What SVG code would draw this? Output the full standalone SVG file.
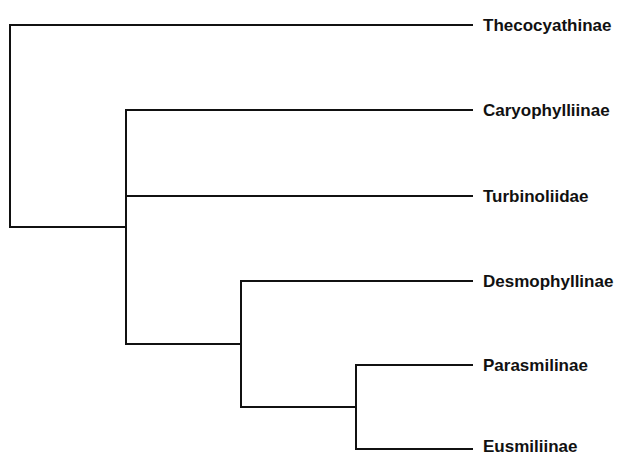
<svg xmlns="http://www.w3.org/2000/svg" width="618" height="455" viewBox="0 0 618 455">
<style>
.e{fill:none;stroke:#111;stroke-width:2;stroke-linecap:square;stroke-linejoin:miter}
.t{font-family:"Liberation Sans",Arial,sans-serif;font-weight:bold;font-size:17px;fill:#111}
</style>
<rect width="618" height="455" fill="#fff"/>
<g id="connectors">
<path class="e" d="M472,25 H10 V227 H126"/>
<path class="e" d="M472,110 H126 V344 H241"/>
<path class="e" d="M126,196 H472"/>
<path class="e" d="M472,281 H241 V407 H356"/>
<path class="e" d="M472,365 H356 V449 H472"/>
</g>
<g id="Thecocyathinae"><text class="t" x="483" y="31">Thecocyathinae</text></g>
<g id="Caryophylliinae"><text class="t" x="483" y="116">Caryophylliinae</text></g>
<g id="Turbinoliidae"><text class="t" x="483" y="202">Turbinoliidae</text></g>
<g id="Desmophyllinae"><text class="t" x="483" y="287">Desmophyllinae</text></g>
<g id="Parasmilinae"><text class="t" x="483" y="371">Parasmilinae</text></g>
<g id="Eusmiliinae"><text class="t" x="483" y="452">Eusmiliinae</text></g>
</svg>
